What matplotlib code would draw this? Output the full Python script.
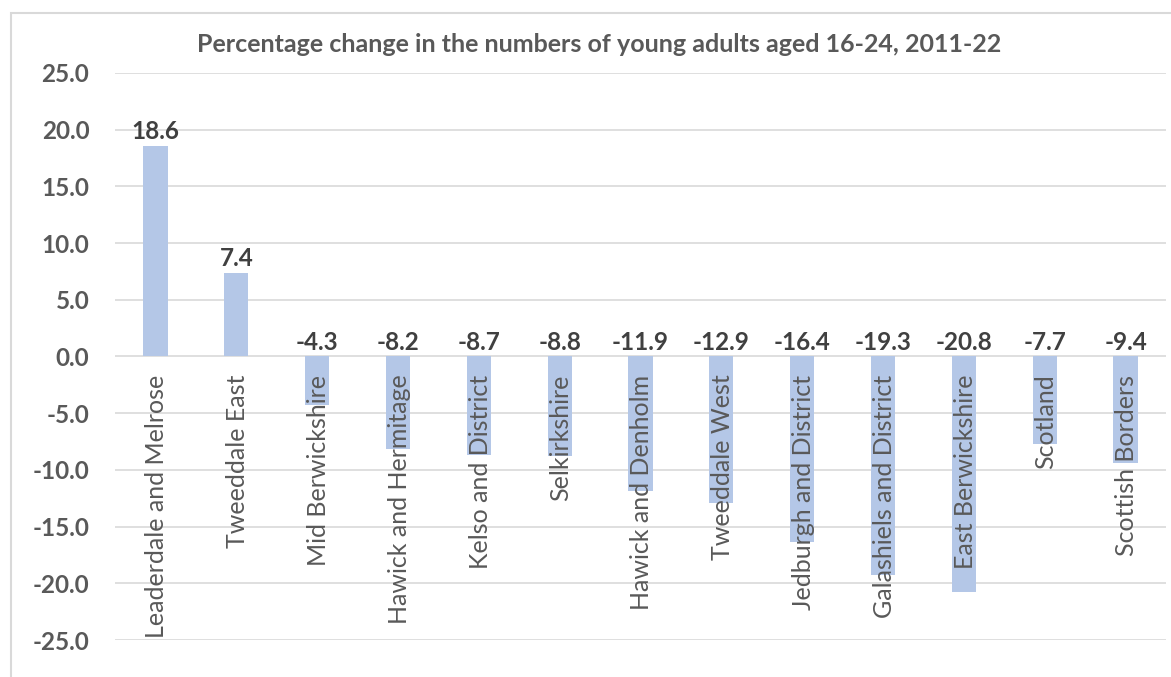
import matplotlib
matplotlib.use("Agg")
import matplotlib.pyplot as plt
from matplotlib.patches import Rectangle
import numpy as np

areas = [
    "Leaderdale and Melrose", "Tweeddale East", "Mid Berwickshire",
    "Hawick and Hermitage", "Kelso and District", "Selkirkshire",
    "Hawick and Denholm", "Tweeddale West", "Jedburgh and District",
    "Galashiels and District", "East Berwickshire", "Scotland",
    "Scottish Borders",
]
pct_change = [18.6, 7.4, -4.3, -8.2, -8.7, -8.8, -11.9, -12.9, -16.4,
              -19.3, -20.8, -7.7, -9.4]
y_ticks = [25.0, 20.0, 15.0, 10.0, 5.0, 0.0, -5.0, -10.0, -15.0, -20.0, -25.0]
title = "Percentage change in the numbers of young adults aged 16-24, 2011-22"

FONT = "Lato"
BAR = "#B4C7E7"
GREY_TXT = "#595959"
DARK_TXT = "#404040"
GRID = "#D9D9D9"

W, H = 1171, 677
fig = plt.figure(figsize=(W / 100, H / 100), dpi=100)
fig.patch.set_facecolor("white")

# outer chart frame
fig.patches.append(Rectangle((11 / W, -0.05), 1.2, 1 - 13 / H + 0.05,
                             transform=fig.transFigure, fill=False,
                             edgecolor=GRID, linewidth=1.5))

ax = fig.add_axes([115 / W, 1 - 640 / H, (1166 - 115) / W, (640 - 73) / H])
x = np.arange(len(areas))
ax.bar(x, pct_change, width=0.3, color=BAR, zorder=2)

ax.set_ylim(-25, 25)
ax.set_xlim(-0.5, len(areas) - 0.5)
ax.set_yticks(y_ticks)
ax.set_yticklabels([f"{v:.1f}" for v in y_ticks], fontfamily=FONT,
                   fontweight="bold", fontsize=17.5, color=GREY_TXT)
ax.tick_params(axis="y", length=0, pad=18.5)
ax.set_xticks([])
ax.grid(axis="y", color=GRID, linewidth=1.2, zorder=0)
for s in ax.spines.values():
    s.set_visible(False)

# value labels: above positive bars, just above the zero line for negatives
for xi, v in zip(x, pct_change):
    base = v if v > 0 else 0.0
    ax.annotate(f"{v:.1f}", (xi, base), xytext=(0, 2), textcoords="offset points",
                ha="center", va="bottom", fontfamily=FONT, fontweight="bold",
                fontsize=17.5, color=DARK_TXT, zorder=4)

# category names written downwards from the zero line
for xi, name in zip(x, areas):
    ax.annotate(name, (xi, 0), xytext=(1, -13), textcoords="offset points",
                ha="center", va="top", rotation=90, fontfamily=FONT,
                fontsize=18, color=GREY_TXT, zorder=3)

fig.text(599 / W, 1 - 44 / H, title, ha="center", va="center",
         fontfamily=FONT, fontweight="bold", fontsize=18, color=GREY_TXT)

fig.savefig("out.png", dpi=100, facecolor="white")
